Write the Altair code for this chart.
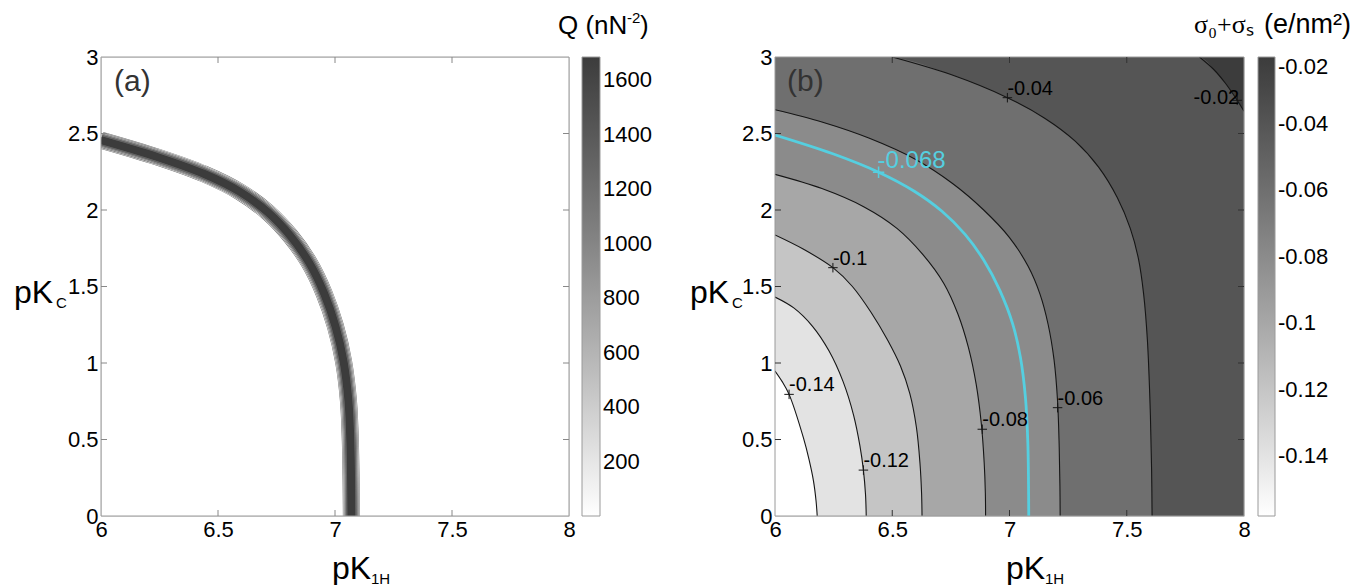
import altair as alt
import pandas as pd

FONT = "Liberation Sans"
SERIF = "Liberation Serif"
W_A, W_B, H = 468, 469, 459
INTERP = "catmull-rom"

# ---------------- axes ----------------
x_ticks = [6, 6.5, 7, 7.5, 8]
y_ticks = [0, 0.5, 1, 1.5, 2, 2.5, 3]
x_inner = [6.5, 7, 7.5]
y_inner = [0.5, 1, 1.5, 2, 2.5]

# ---------------- panel (a): Q ridge ----------------
q_ridge_x = [6.0, 6.2437, 6.4417, 6.5924, 6.7132, 6.8096, 6.8899, 6.9535, 7.0021, 7.0367,
             7.0576, 7.0661, 7.07]
q_ridge_y = [2.457, 2.345, 2.235, 2.12, 1.985, 1.83, 1.655, 1.455, 1.239, 1.009, 0.75, 0.456, 0.0]
q_band_levels = [80, 420, 900, 1400, 1686]
q_bar_ticks = [200, 400, 600, 800, 1000, 1200, 1400, 1600]
Q_MIN, Q_MAX = 0, 1686

# ---------------- panel (b): contours of sigma0+sigmas ----------------
c002_x = [7.81, 7.87, 7.92, 7.971, 8.0]
c002_y = [3.0, 2.92, 2.83, 2.717, 2.645]
c004_x = [6.5, 6.75, 6.991, 7.15, 7.28, 7.38, 7.46, 7.515, 7.55, 7.572, 7.588, 7.6, 7.606, 7.608]
c004_y = [3.0, 2.885, 2.734, 2.6, 2.45, 2.28, 2.08, 1.88, 1.68, 1.45, 1.15, 0.7, 0.3, 0.0]
c006_x = [6.0, 6.2, 6.4, 6.6, 6.76, 6.89, 7.0, 7.08, 7.13, 7.165, 7.19, 7.205, 7.212, 7.215, 7.216]
c006_y = [2.655, 2.575, 2.47, 2.33, 2.17, 2.0, 1.82, 1.63, 1.45, 1.25, 1.02, 0.75, 0.45, 0.2, 0.0]
c0068_x = [6.0, 6.2437, 6.4417, 6.5924, 6.7132, 6.8096, 6.8899, 6.9582, 7.0132, 7.0469,
           7.0679, 7.0781, 7.082]
c0068_y = [2.49, 2.369, 2.247, 2.124, 1.99, 1.842, 1.673, 1.476, 1.257, 1.034, 0.775, 0.481, 0.0]
c008_x = [6.0, 6.2, 6.38, 6.52, 6.63, 6.72, 6.78, 6.825, 6.858, 6.88, 6.892, 6.897, 6.898]
c008_y = [2.233, 2.14, 2.02, 1.88, 1.71, 1.52, 1.32, 1.1, 0.86, 0.6, 0.35, 0.15, 0.0]
c010_x = [6.0, 6.12, 6.247, 6.33, 6.41, 6.48, 6.535, 6.575, 6.603, 6.618, 6.625, 6.627]
c010_y = [1.837, 1.745, 1.623, 1.5, 1.33, 1.15, 0.98, 0.8, 0.58, 0.35, 0.15, 0.0]
c012_x = [6.0, 6.08, 6.16, 6.23, 6.29, 6.335, 6.362, 6.377, 6.386, 6.389]
c012_y = [1.431, 1.36, 1.24, 1.08, 0.88, 0.66, 0.46, 0.3, 0.14, 0.0]
c014_x = [6.0, 6.03, 6.06, 6.121, 6.145, 6.164, 6.175, 6.18]
c014_y = [0.948, 0.88, 0.795, 0.512, 0.37, 0.23, 0.1, 0.0]

SIG_MIN, SIG_MAX = -0.158, -0.02
sig_bar_ticks = [-0.14, -0.12, -0.1, -0.08, -0.06, -0.04, -0.02]

# contour labels (+ marker position and text)
lab_x = [6.06, 6.377, 6.247, 6.884, 7.205, 6.991]
lab_y = [0.795, 0.3, 1.623, 0.567, 0.708, 2.734]
lab_t = ["-0.14", "-0.12", "-0.1", "-0.08", "-0.06", "-0.04"]
lab_r_x = [7.971]
lab_r_y = [2.717]
lab_r_t = ["-0.02"]
lab_c_x = [6.4417]
lab_c_y = [2.247]
lab_c_t = ["-0.068"]

CYAN = "#55cfe0"
LINE = "#151515"
FRAME = "#9a9a9a"
TICK_FS = 22


def X():
    return alt.X("x:Q", title=None,
                 scale=alt.Scale(domain=[6, 8], nice=False, zero=False),
                 axis=alt.Axis(values=x_ticks, format=".1~f", labelFontSize=TICK_FS, labelFont=FONT,
                               labelColor="black", labelPadding=3, ticks=False, domain=False,
                               grid=False, labelFlush=False, labelOverlap=False))


def Y():
    return alt.Y("y:Q", title=None, stack=None,
                 scale=alt.Scale(domain=[0, 3], nice=False, zero=False),
                 axis=alt.Axis(values=y_ticks, format=".1~f", labelFontSize=TICK_FS, labelFont=FONT,
                               labelColor="black", labelPadding=3, ticks=False, domain=False,
                               grid=False, labelFlush=False, labelOverlap=False))


one = pd.DataFrame({"k": [0]})


def txt(s, px, py, size, font=FONT, color="black", align="left"):
    return alt.Chart(one).mark_text(align=align, baseline="alphabetic", fontSize=size,
                                    font=font, color=color).encode(
        x=alt.value(px), y=alt.value(py), text=alt.value(s))


def frame_and_ticks(W, tick_color):
    fr = alt.Chart(one).mark_rect(filled=False, stroke=FRAME, strokeWidth=1).encode(
        x=alt.value(0), x2=alt.value(W), y=alt.value(0), y2=alt.value(H))
    dfx = pd.DataFrame({"x": x_inner})
    dfy = pd.DataFrame({"y": y_inner})
    tb = alt.Chart(dfx).mark_rule(color=tick_color, strokeWidth=1).encode(
        x=X(), y=alt.value(H), y2=alt.value(H - 6))
    tt = alt.Chart(dfx).mark_rule(color=tick_color, strokeWidth=1).encode(
        x=X(), y=alt.value(0), y2=alt.value(6))
    tl = alt.Chart(dfy).mark_rule(color=tick_color, strokeWidth=1).encode(
        y=Y(), x=alt.value(0), x2=alt.value(6))
    tr = alt.Chart(dfy).mark_rule(color=tick_color, strokeWidth=1).encode(
        y=Y(), x=alt.value(W), x2=alt.value(W - 6))
    return [fr, tb, tt, tl, tr]


# ================= panel (a) =================
scale_a = alt.Scale(domain=[Q_MIN, Q_MAX], range=["#ffffff", "#3c3c3c"], nice=False, zero=False)
legend_a = alt.Legend(orient="none", legendX=W_A + 13, legendY=0, direction="vertical",
                      gradientLength=H, gradientThickness=18, gradientStrokeColor=FRAME,
                      gradientStrokeWidth=1, labelFontSize=TICK_FS, labelFont=FONT, labelColor="black",
                      labelOffset=3, values=q_bar_ticks, format="d", title=None, labelOverlap=False)

band_widths = [17, 15, 13, 11, 9]
layers_a = []
for lvl, w in zip(q_band_levels, band_widths):
    d = pd.DataFrame({"x": q_ridge_x, "y": q_ridge_y, "q": lvl})
    layers_a.append(alt.Chart(d).mark_line(stroke="#707070", strokeWidth=w, interpolate=INTERP,
                                           clip=True, strokeCap="butt").encode(x=X(), y=Y()))
    layers_a.append(alt.Chart(d).mark_line(strokeWidth=w - 1.0, interpolate=INTERP,
                                           clip=True, strokeCap="butt").encode(
        x=X(), y=Y(), color=alt.Color("q:Q", scale=scale_a, legend=legend_a)))

layers_a += frame_and_ticks(W_A, "#888888")
layers_a += [
    txt("(a)", 13, 34, 30, color="#333333"),
    txt("pK", -87, 246, 32),
    txt("C", -45, 251, 15),
    txt("pK", 231, 522, 32),
    txt("1H", 270, 527, 15),
    txt("Q (nN", 457, -23, 26),
    txt("-2", 526, -34, 15),
    txt(")", 539, -23, 26),
]
panel_a = alt.layer(*layers_a).properties(width=W_A, height=H)

# ================= panel (b) =================
scale_b = alt.Scale(domain=[SIG_MIN, SIG_MAX], range=["#ffffff", "#3c3c3c"], nice=False, zero=False)
legend_b = alt.Legend(orient="none", legendX=W_B + 14, legendY=0, direction="vertical",
                      gradientLength=H, gradientThickness=17, gradientStrokeColor=FRAME,
                      gradientStrokeWidth=1, labelFontSize=TICK_FS, labelFont=FONT, labelColor="black",
                      labelOffset=3, values=sig_bar_ticks, title=None, labelOverlap=False,
                      labelExpr="replace(format(datum.value, '.2~f'), '\u2212', '-')")

# filled regions: area under each contour, coloured at the contour's lower level
areas = [
    ([6.0, 8.0], [3.0, 3.0], -0.02),
    ([6.0] + c002_x, [3.0] + c002_y, -0.04),
    ([6.0] + c004_x, [3.0] + c004_y, -0.06),
    (c006_x, c006_y, -0.08),
    (c008_x, c008_y, -0.10),
    (c010_x, c010_y, -0.12),
    (c012_x, c012_y, -0.14),
    (c014_x, c014_y, SIG_MIN),
]
layers_b = []
for xs, ys, f in areas:
    d = pd.DataFrame({"x": xs, "y": ys, "f": f})
    layers_b.append(alt.Chart(d).mark_area(interpolate=INTERP, clip=True).encode(
        x=X(), y=Y(), color=alt.Color("f:Q", scale=scale_b, legend=legend_b)))

for xs, ys in [(c002_x, c002_y), (c004_x, c004_y), (c006_x, c006_y), (c008_x, c008_y),
               (c010_x, c010_y), (c012_x, c012_y), (c014_x, c014_y)]:
    d = pd.DataFrame({"x": xs, "y": ys})
    layers_b.append(alt.Chart(d).mark_line(color=LINE, strokeWidth=1.1, interpolate=INTERP,
                                           clip=True).encode(x=X(), y=Y()))

dcy = pd.DataFrame({"x": c0068_x, "y": c0068_y})
layers_b.append(alt.Chart(dcy).mark_line(color=CYAN, strokeWidth=2.8, interpolate=INTERP,
                                         clip=True).encode(x=X(), y=Y()))

PLUS = "M-1,0L1,0M0,-1L0,1"
dl = pd.DataFrame({"x": lab_x, "y": lab_y, "t": lab_t})
dr = pd.DataFrame({"x": lab_r_x, "y": lab_r_y, "t": lab_r_t})
dc = pd.DataFrame({"x": lab_c_x, "y": lab_c_y, "t": lab_c_t})
for d, col in [(dl, LINE), (dr, LINE)]:
    layers_b.append(alt.Chart(d).mark_point(shape=PLUS, size=90, filled=False, stroke=col,
                                            strokeWidth=1, opacity=1).encode(x=X(), y=Y()))
layers_b.append(alt.Chart(dc).mark_point(shape=PLUS, size=130, filled=False, stroke=CYAN,
                                         strokeWidth=1.5, opacity=1).encode(x=X(), y=Y()))
layers_b.append(alt.Chart(dl).mark_text(align="left", baseline="alphabetic", dx=0, dy=-3,
                                        fontSize=20, font=FONT, color="black").encode(
    x=X(), y=Y(), text="t:N"))
layers_b.append(alt.Chart(dr).mark_text(align="right", baseline="alphabetic", dx=2, dy=4,
                                        fontSize=20, font=FONT, color="black").encode(
    x=X(), y=Y(), text="t:N"))
layers_b.append(alt.Chart(dc).mark_text(align="left", baseline="alphabetic", dx=-1, dy=-4,
                                        fontSize=24, font=FONT, color=CYAN).encode(
    x=X(), y=Y(), text="t:N"))

layers_b += frame_and_ticks(W_B, "#333333")
layers_b += [
    txt("(b)", 12, 34, 30, color="#333333"),
    txt("pK", -85, 246, 32),
    txt("C", -43, 251, 15),
    txt("pK", 231, 522, 32),
    txt("1H", 270, 527, 15),
    txt("\u03c3\u2080+\u03c3\u209b", 419, -24, 26, font=SERIF),
    txt("(e/nm\u00b2)", 489, -24, 27),
]
panel_b = alt.layer(*layers_b).properties(width=W_B, height=H)

chart = alt.hconcat(panel_a, panel_b, spacing=206, bounds="flush").resolve_scale(
    color="independent").resolve_legend(color="independent").properties(
    padding={"left": 13, "top": 10, "right": 0, "bottom": 0}, background="white"
).configure_view(strokeWidth=0).configure(font=FONT)

chart.save("out.html", embed_options={"renderer": "svg", "actions": False})
